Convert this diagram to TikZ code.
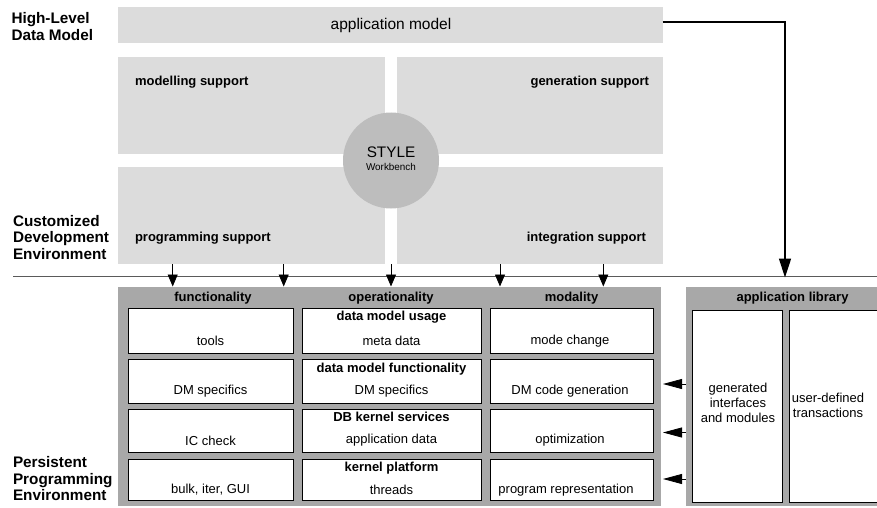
\documentclass[tikz,border=0pt]{standalone}
\usepackage{fontspec}
\setmainfont{Liberation Sans}
\usetikzlibrary{arrows.meta}
\definecolor{panel}{HTML}{DCDCDC}
\definecolor{hub}{HTML}{BDBDBD}
\definecolor{frame}{HTML}{A8A8A8}
\definecolor{rule}{HTML}{5A5A5A}
\newcommand\fsz[2]{\fontsize{#1}{#2}\selectfont}
\begin{document}
\begin{tikzpicture}[x=1pt,y=-1pt,
  every node/.style={inner sep=0pt, outer sep=0pt},
  panelbox/.style={fill=panel, anchor=north west},
  framebox/.style={fill=frame, anchor=north west},
  cellbox/.style={draw=black, line width=0.9pt, fill=white, anchor=north west},
  heading/.style={font=\fsz{13}{15}\bfseries},
  celltext/.style={font=\fsz{13}{15}},
  layer/.style={font=\fsz{15.3}{16.5}\bfseries, align=left, anchor=north west},
  feed/.style={-{Triangle[length=12pt,width=10pt]}, line width=0.8pt},
  back/.style={-{Triangle[length=19pt,width=10pt]}, line width=0.8pt},
  main/.style={-{Triangle[length=19pt,width=12pt]}, line width=1.6pt}]
\useasboundingbox (0,0) rectangle (877,508);

% layer titles
\node[layer] (hl)  at (11.5,12.5) {High-Level\\Data Model};
\node[layer] (cde) at (13,215)    {Customized\\Development\\Environment};
\node[layer] (ppe) at (13,456.5)  {Persistent\\Programming\\Environment};

% high-level data model
\node[panelbox, minimum width=544.5, minimum height=36] (appmodel) at (118,7) {};
\node[font=\fsz{15.5}{17}] (appmodeltxt) at (391,25) {application model};

% development environment panels
\node[panelbox, minimum width=267, minimum height=97] (modsup) at (118,57) {};
\node[panelbox, minimum width=265.5, minimum height=97] (gensup) at (397,57) {};
\node[panelbox, minimum width=267, minimum height=97] (progsup) at (118,167) {};
\node[panelbox, minimum width=265.5, minimum height=97] (intsup) at (397,167) {};
\node[heading, anchor=west] at (135,82) {modelling support};
\node[heading, anchor=east] at (649,82) {generation support};
\node[heading, anchor=west] at (135,238) {programming support};
\node[heading, anchor=east] at (646,238) {integration support};

% workbench hub
\node[circle, fill=hub, minimum size=96] (hubc) at (391,160.5) {};
\node[font=\fsz{15.3}{17}] (hubname) at (391,152) {STYLE};
\node[font=\fsz{9.9}{11}] (hubsub) at (391,166.5) {Workbench};

% separating rule
\coordinate (ruleL) at (13,276);
\coordinate (ruleR) at (877,276);
\draw[rule, line width=1pt] (ruleL) -- (ruleR);

% persistent programming environment
\node[framebox, minimum width=543, minimum height=219] (ppeframe) at (118,287) {};
\node[framebox, minimum width=210, minimum height=219] (libframe) at (686,287) {};

\node[heading] (hfun) at (213,298.5) {functionality};
\node[heading] (hop)  at (391,298.5) {operationality};
\node[heading] (hmod) at (571.5,298.5) {modality};
\node[heading] (hlib) at (792.5,298.5) {application library};

% row 1
\node[cellbox, minimum width=165, minimum height=45] (c11) at (128,308) {};
\node[cellbox, minimum width=179, minimum height=45] (c12) at (302,308) {};
\node[cellbox, minimum width=163, minimum height=45] (c13) at (490,308) {};
\node[celltext] at (210.5,341) {tools};
\node[heading] at (391.5,317) {data model usage};
\node[celltext] at (391.5,341) {meta data};
\node[celltext] at (570,341) {mode change};
% row 2
\node[cellbox, minimum width=165, minimum height=44] (c21) at (128,359) {};
\node[cellbox, minimum width=179, minimum height=44] (c22) at (302,359) {};
\node[cellbox, minimum width=163, minimum height=44] (c23) at (490,359) {};
\node[celltext] at (210.5,391.5) {DM specifics};
\node[heading] at (391.5,369) {data model functionality};
\node[celltext] at (391.5,391.5) {DM specifics};
\node[celltext] at (570,391.5) {DM code generation};
% row 3
\node[cellbox, minimum width=165, minimum height=43] (c31) at (128,409) {};
\node[cellbox, minimum width=179, minimum height=43] (c32) at (302,409) {};
\node[cellbox, minimum width=163, minimum height=43] (c33) at (490,409) {};
\node[celltext] at (210.5,440.5) {IC check};
\node[heading] at (391.5,417) {DB kernel services};
\node[celltext] at (391.5,440.5) {application data};
\node[celltext] at (570,440.5) {optimization};
% row 4
\node[cellbox, minimum width=165, minimum height=41] (c41) at (128,459) {};
\node[cellbox, minimum width=179, minimum height=41] (c42) at (302,459) {};
\node[cellbox, minimum width=163, minimum height=41] (c43) at (490,459) {};
\node[celltext] at (210.5,490) {bulk, iter, GUI};
\node[heading] at (391.5,468) {kernel platform};
\node[celltext] at (391.5,490) {threads};
\node[celltext] at (566,490) {program representation};

% application library
\node[cellbox, minimum width=90.5, minimum height=192] (genmod) at (692,310) {};
\node[cellbox, minimum width=100, minimum height=192] (usertx) at (789,310) {};
\node[celltext, align=center] at (738,403) {generated\\interfaces\\and modules};
\node[celltext, align=center] at (828,405) {user-defined\\transactions};

% feeds from the development environment
\foreach \n/\x in {a/172.7, b/283.7, c/391, d/500, e/603.3}{
  \coordinate (top\n) at (\x,264);
  \coordinate (tip\n) at (\x,286.5);
  \draw[feed] (top\n) -- (tip\n);
}

% application model to application library
\coordinate (bend) at (785,22);
\coordinate (libtip) at (785,277.5);
\draw[main] (appmodel.east |- bend) -- (bend) -- (libtip);

% library back into the layers
\foreach \n/\y in {1/384, 2/432.5, 3/479}{
  \coordinate (from\n) at (686,\y);
  \coordinate (to\n) at (663,\y);
  \draw[back] (from\n) -- (to\n);
}
\end{tikzpicture}
\end{document}
